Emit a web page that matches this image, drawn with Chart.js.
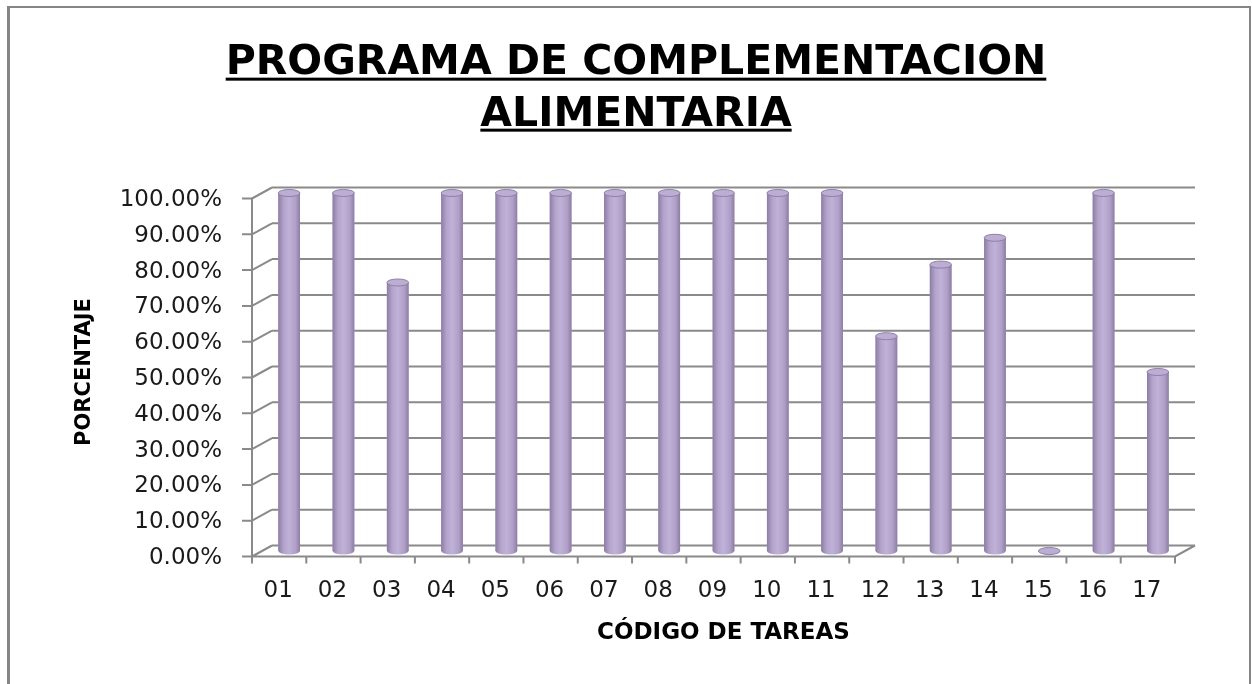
<!DOCTYPE html>
<html lang="es">
<head>
<meta charset="utf-8">
<title>Programa de Complementación Alimentaria</title>
<script src="https://cdn.jsdelivr.net/npm/chart.js@4.4.1/dist/chart.umd.min.js"></script>
<style>
  html, body { margin: 0; padding: 0; background: #fff; overflow: hidden; }
  #marco {
    position: absolute; left: 7px; top: 6px; width: 1244px; height: 700px;
    box-sizing: border-box; border: 2px solid #858585; border-left-width: 3px;
  }
  #lienzo { position: absolute; left: 0; top: 0; width: 1252px; height: 684px; }
</style>
</head>
<body>
<div id="marco"></div>
<div id="lienzo"><canvas id="grafico"></canvas></div>
<script>
// Datos
const codigos = ['01', '02', '03', '04', '05', '06', '07', '08', '09', '10', '11', '12', '13', '14', '15', '16', '17'];
const porcentajes = [100, 100, 75, 100, 100, 100, 100, 100, 100, 100, 100, 60, 80, 87.5, 0, 100, 50];
const marcasY = [0, 10, 20, 30, 40, 50, 60, 70, 80, 90, 100];
const titulo = ['PROGRAMA DE COMPLEMENTACION', 'ALIMENTARIA'];

// profundidad del efecto 3D (mitad)
const dx = 10, dy = 5.5;
const colorRejilla = '#8a8a8a';
const fuente = 'DejaVu Sans';

// Pared de fondo, piso y eje frontal
const marco3d = {
    id: 'marco3d',
    beforeDatasetsDraw(chart) {
        const { ctx, chartArea: { left, right }, scales: { x, y } } = chart;
        const y0 = y.getPixelForValue(0);
        const yTop = y.getPixelForValue(marcasY[marcasY.length - 1]);
        ctx.save();
        ctx.strokeStyle = colorRejilla;
        ctx.lineWidth = 2;
        ctx.beginPath();
        marcasY.forEach(v => {
            const py = y.getPixelForValue(v);
            ctx.moveTo(left + dx, py - dy);
            ctx.lineTo(right + dx, py - dy);
            ctx.moveTo(left - dx, py + dy);
            ctx.lineTo(left + dx, py - dy);
            ctx.moveTo(left - dx - 10, py + dy);
            ctx.lineTo(left - dx, py + dy);
        });
        ctx.moveTo(left - dx, yTop + dy);
        ctx.lineTo(left - dx, y0 + dy);
        ctx.moveTo(left - dx, y0 + dy);
        ctx.lineTo(right - dx, y0 + dy);
        ctx.lineTo(right + dx, y0 - dy);
        const ancho = (right - left) / codigos.length;
        for (let i = 0; i <= codigos.length; i++) {
            const px = (i < codigos.length ? x.getPixelForValue(i) - ancho / 2 : x.getPixelForValue(i - 1) + ancho / 2) - dx;
            ctx.moveTo(px, y0 + dy);
            ctx.lineTo(px, y0 + dy + 7);
        }
        ctx.stroke();
        ctx.restore();
    }
};

// Cilindros sobre las barras
const cilindros = {
    id: 'cilindros',
    afterDatasetsDraw(chart) {
        const ctx = chart.ctx;
        chart.getDatasetMeta(0).data.forEach(barra => {
            const { x, y, base, width } = barra.getProps(['x', 'y', 'base', 'width'], true);
            const r = width / 2, ry = 3.5;
            const grad = ctx.createLinearGradient(x - r, 0, x + r, 0);
            grad.addColorStop(0, '#8c7da5');
            grad.addColorStop(0.25, '#b4a4cc');
            grad.addColorStop(0.5, '#bfb1d7');
            grad.addColorStop(0.8, '#b0a0c8');
            grad.addColorStop(1, '#8d7ca4');
            ctx.save();
            ctx.fillStyle = grad;
            ctx.beginPath();
            ctx.moveTo(x - r, y);
            ctx.lineTo(x - r, base);
            ctx.ellipse(x, base, r, ry, 0, Math.PI, 0, true);
            ctx.lineTo(x + r, y);
            ctx.closePath();
            ctx.fill();
            ctx.beginPath();
            ctx.ellipse(x, y, r, ry, 0, 0, Math.PI * 2);
            ctx.fillStyle = '#bcaed3';
            ctx.fill();
            ctx.strokeStyle = '#8f7fa8';
            ctx.lineWidth = 1;
            ctx.stroke();
            ctx.restore();
        });
    }
};

// Subrayado del título
const subrayado = {
    id: 'subrayado',
    afterDraw(chart) {
        const { ctx } = chart;
        const tb = chart.titleBlock;
        const cx = (tb.left + tb.right) / 2;
        ctx.save();
        ctx.font = 'bold 41px "' + fuente + '"';
        ctx.textBaseline = 'middle';
        ctx.fillStyle = '#000';
        titulo.forEach((linea, i) => {
            const yMid = tb.top + 37 + 26 + i * 52;
            const m = ctx.measureText(linea);
            ctx.fillRect(cx - m.width / 2, yMid + m.actualBoundingBoxDescent + 3, m.width, 3);
        });
        ctx.restore();
    }
};

function crearGrafico() {
    const ctx = document.getElementById('grafico').getContext('2d');
    new Chart(ctx, {
        type: 'bar',
        data: {
            labels: codigos,
            datasets: [{
                label: 'Porcentaje',
                data: porcentajes,
                backgroundColor: '#b3a2c7',
                borderWidth: 0,
                categoryPercentage: 0.8,
                barPercentage: 0.5
            }]
        },
        options: {
            responsive: true,
            maintainAspectRatio: false,
            animation: false,
            layout: { padding: { left: 20, right: 0, top: 0, bottom: 0 } },
            plugins: {
                legend: { display: false },
                tooltip: {
                    callbacks: {
                        label: item => item.raw.toFixed(2) + '%'
                    }
                },
                title: {
                    display: true,
                    text: titulo,
                    color: '#000',
                    font: { family: fuente, size: 41, weight: 'bold', lineHeight: '52px' },
                    padding: { top: 37, bottom: 52 }
                }
            },
            scales: {
                x: {
                    grid: { display: false, drawTicks: false },
                    border: { display: false },
                    ticks: {
                        color: '#1a1a1a',
                        font: { family: fuente, size: 23 },
                        labelOffset: -11,
                        padding: 26,
                        maxRotation: 0
                    },
                    title: {
                        display: true,
                        text: 'CÓDIGO DE TAREAS',
                        color: '#000',
                        font: { family: fuente, size: 23, weight: 'bold' },
                        padding: { top: 0, bottom: 37 }
                    },
                    afterFit: s => { s.height = 133; }
                },
                y: {
                    min: 0,
                    max: 100,
                    grid: { display: false, drawTicks: false },
                    border: { display: false },
                    afterBuildTicks: s => { s.ticks = marcasY.map(v => ({ value: v })); },
                    ticks: {
                        color: '#1a1a1a',
                        font: { family: fuente, size: 23 },
                        labelOffset: 7,
                        padding: 40,
                        callback: v => v.toFixed(2) + '%'
                    },
                    title: {
                        display: true,
                        text: 'PORCENTAJE',
                        color: '#000',
                        font: { family: fuente, size: 21, weight: 'bold' },
                        padding: { top: 52, bottom: 0 }
                    },
                    afterFit: s => { s.width = 242; }
                },
                derecha: {
                    position: 'right',
                    grid: { display: false },
                    border: { display: false },
                    ticks: { display: false },
                    afterFit: s => { s.width = 67; }
                }
            }
        },
        plugins: [marco3d, cilindros, subrayado]
    });
}

window.onload = crearGrafico;
</script>
</body>
</html>
